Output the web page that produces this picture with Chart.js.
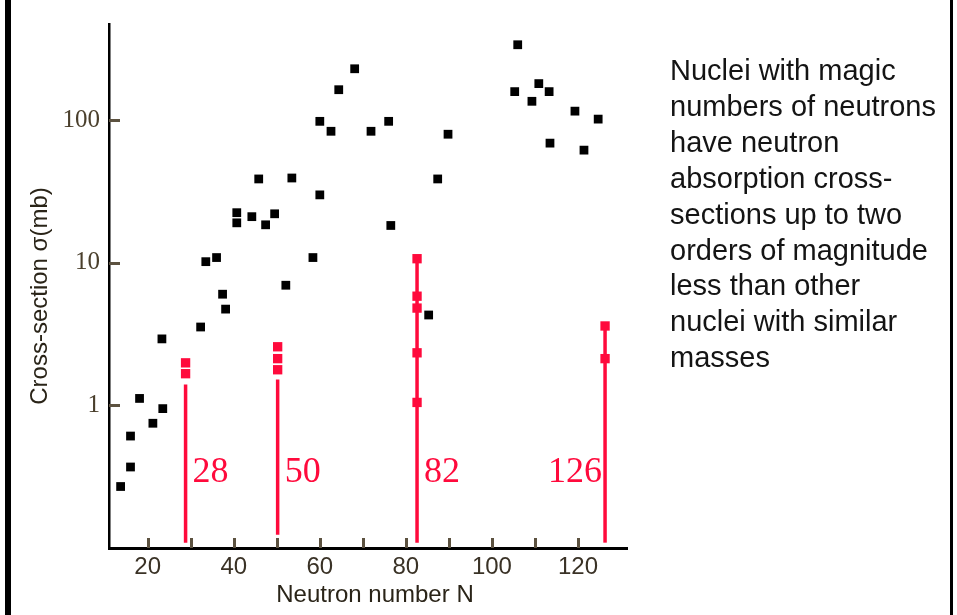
<!DOCTYPE html>
<html>
<head>
<meta charset="utf-8">
<title>Neutron absorption cross-sections</title>
<script src="https://cdn.jsdelivr.net/npm/chart.js@4.4.1/dist/chart.umd.min.js"></script>
<style>
  html, body { margin: 0; padding: 0; background: #fff; }
  canvas { display: block; }
</style>
</head>
<body>
<canvas id="chart" width="957" height="615"></canvas>
<script>
/* data */
var blackN = [13.7, 16, 16, 18.1, 21.2, 23.5, 23.3, 32.3, 38.1, 37.4, 33.5, 36, 40.7, 40.7, 44.2, 47.4, 49.5,
  45.8, 53.5, 52.1, 58.4, 60, 60, 62.6, 64.4, 68.1, 71.9, 76, 76.5, 85.3, 87.4, 89.8,
  106, 105.3, 110.9, 109.3, 113.3, 113.5, 119.3, 121.4, 124.7];
var blackSigma = [0.27, 0.37, 0.61, 1.12, 0.75, 0.95, 2.93, 3.55, 4.74, 6.03, 10.2, 10.9, 22.5, 19.1, 21.1, 18.5, 22.1,
  38.8, 39.4, 6.97, 10.9, 30, 98.4, 83.8, 164, 230, 83.8, 98.4, 18.3, 4.31, 38.8, 79.9,
  339, 159, 181, 136, 159, 69.2, 116, 61.8, 102];

var magicN = [28.8, 50.2, 82.6, 126.3];
var magicLabels = ['28', '50', '82', '126'];
var magicLineBottom = [0.109, 0.124, 0.109, 0.109];
var magicLineTop = [1.40, 1.52, 10.7, 3.61];
var magicLabelSigma = 0.29;

var magicPointN = [28.8, 28.8, 50.2, 50.2, 50.2, 82.6, 82.6, 82.6, 82.6, 82.6, 126.3, 126.3];
var magicPointSigma = [1.99, 1.67, 2.58, 2.13, 1.78, 10.7, 5.84, 4.82, 2.34, 1.05, 3.61, 2.13];

var xTickLabels = [20, 40, 60, 80, 100, 120];
var xTickMarks = [20, 30, 40, 50, 60, 70, 80, 90, 100, 110, 120];
var yTickLabels = [1, 10, 100];

var noteLines = [
  'Nuclei with magic',
  'numbers of neutrons',
  'have neutron',
  'absorption cross-',
  'sections up to two',
  'orders of magnitude',
  'less than other',
  'nuclei with similar',
  'masses'
];

var RED = '#ff0a3c';
var SANS = '"Liberation Sans", Arial, sans-serif';
var SERIF = '"Liberation Serif", "Times New Roman", serif';

function toPoints(xs, ys) {
  return xs.map(function(x, i) { return { x: x, y: ys[i] }; });
}

/* magic-number drop lines as line datasets */
var lineSets = magicN.map(function(n, i) {
  return {
    type: 'line',
    data: [{ x: n, y: magicLineBottom[i] }, { x: n, y: magicLineTop[i] }],
    borderColor: RED,
    borderWidth: 3.5,
    pointRadius: 0,
    showLine: true,
    fill: false,
    order: 3
  };
});

var decor = {
  id: 'decor',
  beforeDraw: function(chart) {
    var ctx = chart.ctx;
    ctx.save();
    ctx.fillStyle = '#fff';
    ctx.fillRect(0, 0, chart.width, chart.height);
    ctx.fillStyle = '#000';
    ctx.fillRect(5, 0, 6, chart.height);
    ctx.fillRect(950, 0, 3, chart.height);
    ctx.restore();
  },
  afterDraw: function(chart) {
    var ctx = chart.ctx;
    var xs = chart.scales.x, ys = chart.scales.y;
    var area = chart.chartArea;
    ctx.save();

    /* inward tick marks */
    ctx.strokeStyle = '#5c5240';
    ctx.lineWidth = 3;
    xTickMarks.forEach(function(v) {
      var px = Math.round(xs.getPixelForValue(v)) + 0.5;
      ctx.beginPath();
      ctx.moveTo(px, area.bottom);
      ctx.lineTo(px, area.bottom - 10);
      ctx.stroke();
    });
    yTickLabels.forEach(function(v) {
      var py = Math.round(ys.getPixelForValue(v)) + 0.5;
      ctx.beginPath();
      ctx.moveTo(area.left, py);
      ctx.lineTo(area.left + 11, py);
      ctx.stroke();
    });

    /* magic number labels */
    ctx.fillStyle = RED;
    ctx.font = '36px ' + SERIF;
    ctx.textBaseline = 'alphabetic';
    magicLabels.forEach(function(t, i) {
      var px = xs.getPixelForValue(magicN[i]);
      var py = ys.getPixelForValue(magicLabelSigma);
      if (i === magicLabels.length - 1) {
        ctx.textAlign = 'right';
        ctx.fillText(t, px - 3, py);
      } else {
        ctx.textAlign = 'left';
        ctx.fillText(t, px + 7, py);
      }
    });

    /* axis titles */
    ctx.fillStyle = '#2a2418';
    ctx.font = '24px ' + SANS;
    ctx.textAlign = 'center';
    ctx.textBaseline = 'alphabetic';
    ctx.fillText('Neutron number N', 375, 602);

    ctx.save();
    ctx.translate(47, 296);
    ctx.rotate(-Math.PI / 2);
    ctx.fillText('Cross-section \u03c3(mb)', 0, 0);
    ctx.restore();

    /* side note */
    ctx.fillStyle = '#141414';
    ctx.font = '29px ' + SANS;
    ctx.textAlign = 'left';
    noteLines.forEach(function(line, i) {
      ctx.fillText(line, 670, 80 + i * 35.9);
    });

    ctx.restore();
  }
};

new Chart(document.getElementById('chart'), {
  type: 'scatter',
  data: {
    datasets: lineSets.concat([
      {
        data: toPoints(blackN, blackSigma),
        pointStyle: 'rect',
        pointRadius: 6.2,
        pointBorderWidth: 0,
        backgroundColor: '#000',
        borderColor: '#000',
        order: 1
      },
      {
        data: toPoints(magicPointN, magicPointSigma),
        pointStyle: 'rect',
        pointRadius: 6.6,
        pointBorderWidth: 0,
        backgroundColor: RED,
        borderColor: RED,
        order: 2
      }
    ])
  },
  options: {
    responsive: false,
    animation: false,
    events: [],
    layout: { padding: { top: 21, right: 330, left: 0, bottom: 0 } },
    plugins: {
      legend: { display: false },
      tooltip: { enabled: false }
    },
    scales: {
      x: {
        type: 'linear',
        min: 11,
        max: 131.4,
        afterFit: function(s) { s.height = 67; },
        afterBuildTicks: function(s) {
          s.ticks = xTickLabels.map(function(v) { return { value: v }; });
        },
        grid: { display: false, drawTicks: false },
        border: { display: true, color: '#000', width: 3 },
        ticks: {
          padding: 5,
          color: '#3a3226',
          autoSkip: false,
          maxRotation: 0,
          font: { family: SANS, size: 24 }
        }
      },
      y: {
        type: 'logarithmic',
        min: 0.1,
        max: 474,
        afterFit: function(s) { s.width = 109; },
        afterBuildTicks: function(s) {
          s.ticks = yTickLabels.map(function(v) { return { value: v }; });
        },
        grid: { display: false, drawTicks: false },
        border: { display: true, color: '#000', width: 2.5 },
        ticks: {
          padding: 9,
          color: '#4a3f2c',
          autoSkip: false,
          font: { family: SERIF, size: 25 },
          callback: function(v) { return String(v); }
        }
      }
    }
  },
  plugins: [decor]
});
</script>
</body>
</html>
